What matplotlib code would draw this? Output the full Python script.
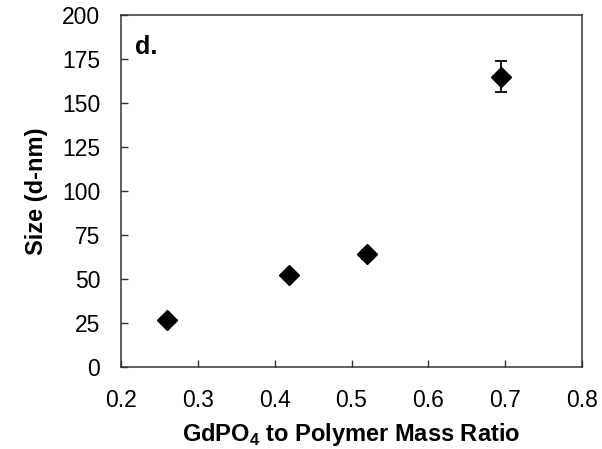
import numpy as np
import matplotlib.pyplot as plt

# data
mass_ratio = [0.26, 0.418, 0.52, 0.695]
size_nm = [26.5, 52.0, 64.0, 165.0]
size_err = [2.0, 2.0, 2.5, 9.0]

plt.rcParams['font.family'] = ['Liberation Sans', 'DejaVu Sans']
plt.rcParams['mathtext.fontset'] = 'custom'
plt.rcParams['mathtext.rm'] = 'Liberation Sans'
plt.rcParams['mathtext.bf'] = 'Liberation Sans:bold'

fig = plt.figure(figsize=(6.02, 4.49), dpi=100)
ax = fig.add_axes([0.2010, 0.1826, 0.7658, 0.7840])

ax.errorbar(mass_ratio, size_nm, yerr=size_err, fmt='D', color='black',
            markersize=10, elinewidth=1.3, capsize=4, capthick=1.3)

ax.set_xlim(0.2, 0.8)
ax.set_ylim(0, 200)
ax.set_xticks(np.arange(0.2, 0.81, 0.1))
ax.set_yticks(np.arange(0, 201, 25))
ax.set_xticklabels(['%.1f' % v for v in np.arange(0.2, 0.81, 0.1)])

ax.tick_params(axis='both', direction='in', length=5, width=1, labelsize=16.5,
               colors='#333333', labelcolor='black', top=False, right=False)
ax.tick_params(axis='x', pad=16)
ax.tick_params(axis='y', pad=15)
for sp in ax.spines.values():
    sp.set_linewidth(1.1)
    sp.set_color('#333333')

ax.set_xlabel('GdPO$_\\mathbf{4}$ to Polymer Mass Ratio', fontsize=17,
              fontweight='bold', labelpad=6)
ax.set_ylabel('Size (d-nm)', fontsize=17, fontweight='bold', labelpad=10)

ax.text(0.03, 0.91, 'd.', transform=ax.transAxes, fontsize=18,
        fontweight='bold', va='center', ha='left')

plt.savefig('out.png', dpi=100)
